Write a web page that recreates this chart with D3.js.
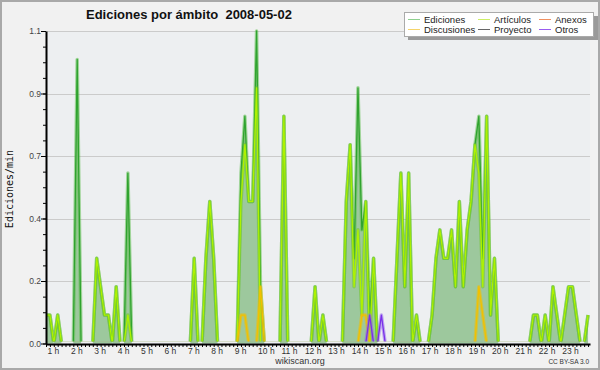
<!DOCTYPE html>
<html>
<head>
<meta charset="utf-8">
<script src="https://cdn.jsdelivr.net/npm/d3@7"></script>
<style>
body { margin: 0; background: #fff; }
text { font-family: "Liberation Sans", Arial, sans-serif; }
</style>
</head>
<body>
<svg width="600" height="370"></svg>
<script>
// edits per minute, one value per 10-minute slot, starting at 1 h
var ediciones = [
    0.1,0.1,0,0.1,0,0,0,0,1.0,0,
    0,0,0,0.3,0.2,0.1,0.1,0,0.2,0,
    0,0.6,0,0,0,0,0,0,0,0,
    0,0,0,0,0,0,0,0,0.3,0,
    0,0.3,0.5,0.3,0,0,0,0,0,0,
    0.6,0.8,0.5,0.5,1.1,0.2,0,0,0,0,
    0,0.8,0,0,0,0,0,0,0,0.2,
    0,0.1,0,0,0,0,0,0.5,0.7,0.3,
    0.9,0.4,0.5,0.1,0.3,0,0,0,0,0,
    0.3,0.6,0.2,0.6,0,0.1,0,0,0,0.1,
    0.3,0.4,0.3,0.3,0.4,0.2,0.5,0.2,0.4,0.5,
    0.7,0.8,0.3,0.8,0.1,0.3,0,0,0,0,
    0,0,0,0,0,0.1,0.1,0,0.1,0,
    0.2,0.1,0,0.1,0.2,0.2,0.1,0,0,0.1
];
var articulos = [
    0.1,0.1,0,0.1,0,0,0,0,0,0,
    0,0,0,0.3,0.2,0.1,0.1,0,0.2,0,
    0,0.1,0,0,0,0,0,0,0,0,
    0,0,0,0,0,0,0,0,0.3,0,
    0,0.3,0.5,0.3,0,0,0,0,0,0,
    0.5,0.7,0.5,0.5,0.9,0,0,0,0,0,
    0,0.8,0,0,0,0,0,0,0,0.2,
    0,0.1,0,0,0,0,0,0.5,0.7,0.2,
    0.4,0.1,0.5,0,0.3,0,0,0,0,0,
    0.3,0.6,0.2,0.6,0,0.1,0,0,0,0.1,
    0.3,0.4,0.3,0.3,0.4,0.2,0.5,0.2,0.4,0.5,
    0.7,0.6,0.2,0.8,0.1,0.3,0,0,0,0,
    0,0,0,0,0,0.1,0.1,0,0.1,0,
    0.2,0.1,0,0.1,0.2,0.2,0.1,0,0,0.1
];
var discusiones = [
    0,0,0,0,0,0,0,0,0,0,
    0,0,0,0,0,0,0,0,0,0,
    0,0,0,0,0,0,0,0,0,0,
    0,0,0,0,0,0,0,0,0,0,
    0,0,0,0,0,0,0,0,0,0,
    0.1,0.1,0,0,0,0.2,0,0,0,0,
    0,0,0,0,0,0,0,0,0,0,
    0,0,0,0,0,0,0,0,0,0,
    0,0.1,0.1,0,0,0,0,0,0,0,
    0,0,0,0,0,0,0,0,0,0,
    0,0,0,0,0,0,0,0,0,0,
    0,0.2,0.1,0,0,0,0,0,0,0,
    0,0,0,0,0,0,0,0,0,0,
    0,0,0,0,0,0,0,0,0,0
];
var otros = [
    0,0,0,0,0,0,0,0,0,0,
    0,0,0,0,0,0,0,0,0,0,
    0,0,0,0,0,0,0,0,0,0,
    0,0,0,0,0,0,0,0,0,0,
    0,0,0,0,0,0,0,0,0,0,
    0,0,0,0,0,0,0,0,0,0,
    0,0,0,0,0,0,0,0,0,0,
    0,0,0,0,0,0,0,0,0,0,
    0,0,0,0.1,0,0,0.1,0,0,0,
    0,0,0,0,0,0,0,0,0,0,
    0,0,0,0,0,0,0,0,0,0,
    0,0,0,0,0,0,0,0,0,0,
    0,0,0,0,0,0,0,0,0,0,
    0,0,0,0,0,0,0,0,0,0
];

var hourLabels = ["1 h","2 h","3 h","4 h","5 h","6 h","7 h","8 h","9 h","10 h","11 h","12 h",
    "13 h","14 h","15 h","16 h","17 h","18 h","19 h","20 h","21 h","22 h","23 h"];
var yTickValues = [0, 0.22, 0.44, 0.66, 0.88, 1.1];
var yTickLabels = ["0.0", "0.2", "0.4", "0.7", "0.9", "1.1"];

var legendNames = ["Ediciones", "Discusiones", "Artículos", "Proyecto", "Anexos", "Otros"];
var legendColors = ["#8fd08f", "#f5d46a", "#cdee66", "#666666", "#f09060", "#9a5cf0"];

var svg = d3.select("svg");

var x = d3.scaleLinear().domain([0, 139.5]).range([46, 590]);
var y = d3.scaleLinear().domain([0, 1.1]).range([343.5, 31]);

// lines are cut just above the x axis so the zero runs do not show
svg.append("defs").append("clipPath")
        .attr("id", "plotclip")
        .append("rect")
        .attr("x", 46).attr("y", 0).attr("width", 546).attr("height", 341.6);

// background + border
svg.append("rect")
        .attr("x", 1).attr("y", 1).attr("width", 598).attr("height", 368)
        .style("fill", "#f1f1f1").style("stroke", "#a9a9a9").style("stroke-width", "2px");

svg.append("rect")
        .attr("x", 46).attr("y", 31).attr("width", 544).attr("height", 313)
        .style("fill", "#edeff1");

// gridlines
svg.selectAll(".grid")
        .data(yTickValues.slice(1))
        .enter()
        .append("line")
        .attr("x1", 46).attr("x2", 590)
        .attr("y1", function(d){return Math.round(y(d)) + 0.5;})
        .attr("y2", function(d){return Math.round(y(d)) + 0.5;})
        .style("stroke", "#cbcbcb").style("stroke-width", "1px");

// area under Ediciones
var area = d3.area()
        .x(function(d, i){return x(i);})
        .y0(y(0))
        .y1(function(d){return y(d);});

svg.append("path")
        .datum(ediciones)
        .attr("d", area)
        .style("fill", "#9dc89d");

var plot = svg.append("g").attr("clip-path", "url(#plotclip)");

var line = d3.line()
        .x(function(d, i){return x(i);})
        .y(function(d){return y(d);});

var drawSeries = function(data, color, glow) {
    plot.append("path")
            .datum(data)
            .attr("d", line)
            .style("fill", "none")
            .style("stroke", glow)
            .style("stroke-opacity", 0.5)
            .style("stroke-width", "3.5px")
            .style("stroke-linejoin", "round");
    plot.append("path")
            .datum(data)
            .attr("d", line)
            .style("fill", "none")
            .style("stroke", color)
            .style("stroke-width", "1.3px")
            .style("stroke-linejoin", "round");
};

drawSeries(ediciones, "#2fa32f", "#55bb44");
drawSeries(articulos, "#aef200", "#6cc81e");
drawSeries(discusiones, "#f2c000", "#f2c000");
drawSeries(otros, "#7a30e8", "#9060f0");

// y axis
var yMinor = d3.range(0, 21).map(function(i){return i * 0.055;});
svg.append("g")
        .attr("transform", "translate(46,0)")
        .call(d3.axisLeft(y).tickValues(yMinor).tickSize(3).tickSizeOuter(0).tickFormat(""))
        .call(function(g){
            g.select(".domain").remove();
            g.selectAll("line").style("stroke", "#000");
        });

svg.append("g")
        .attr("transform", "translate(46,0)")
        .call(d3.axisLeft(y).tickValues(yTickValues).tickSize(5).tickSizeOuter(0)
                .tickFormat(function(d, i){return yTickLabels[i];}))
        .call(function(g){
            g.select(".domain").style("stroke", "#000").style("stroke-width", "2px");
            g.selectAll("line").style("stroke", "#000");
            g.selectAll("text").attr("x", -5).style("font-size", "8.5px")
                    .style("fill", "#444").style("font-family", "Liberation Sans, Arial, sans-serif");
        });

// x axis
svg.append("g")
        .attr("transform", "translate(0,344)")
        .call(d3.axisBottom(x).tickValues(d3.range(0, 140)).tickSize(3).tickSizeOuter(0).tickFormat(""))
        .call(function(g){
            g.select(".domain").style("stroke", "#000").style("stroke-width", "2px");
            g.selectAll("line").style("stroke", "#000");
        });

svg.selectAll(".hlabel")
        .data(hourLabels)
        .enter()
        .append("text")
        .attr("x", function(d, i){return x(i * 6) + 1.5;})
        .attr("y", 354)
        .style("font-size", "8.5px")
        .style("fill", "#333")
        .text(function(d){return d;});

// texts
svg.append("text")
        .attr("x", 86).attr("y", 19)
        .style("white-space", "pre")
        .style("font-size", "13px").style("font-weight", "bold").style("fill", "#111")
        .text("Ediciones por ámbito  2008-05-02");

svg.append("text")
        .attr("transform", "translate(13,189) rotate(-90)")
        .attr("text-anchor", "middle")
        .style("font-family", "DejaVu Sans Mono, monospace")
        .style("font-size", "10px").style("fill", "#111")
        .text("Ediciones/min");

svg.append("text")
        .attr("x", 300).attr("y", 364)
        .attr("text-anchor", "middle")
        .style("font-size", "9px").style("fill", "#333")
        .text("wikiscan.org");

svg.append("text")
        .attr("x", 589).attr("y", 364)
        .attr("text-anchor", "end")
        .style("font-size", "6.5px").style("fill", "#333")
        .text("CC BY-SA 3.0");

// legend
svg.append("rect")
        .attr("x", 408).attr("y", 16).attr("width", 190).attr("height", 24)
        .style("fill", "#9a9a9a");
svg.append("rect")
        .attr("x", 404.5).attr("y", 12.5).attr("width", 189).attr("height", 24)
        .style("fill", "#fff").style("stroke", "#aaa").style("stroke-width", "1px");

var legendCols = [408, 478, 539];
var lg = svg.selectAll(".leg")
        .data(legendNames)
        .enter()
        .append("g")
        .attr("transform", function(d, i){
            return "translate(" + legendCols[Math.floor(i / 2)] + "," + (19.5 + (i % 2) * 10) + ")";
        });

lg.append("line")
        .attr("x1", 0).attr("x2", 12)
        .style("stroke", function(d, i){return legendColors[i];})
        .style("stroke-width", "1px");

lg.append("text")
        .attr("x", 16).attr("y", 3.5)
        .style("font-size", "9.5px").style("fill", "#222")
        .text(function(d){return d;});
</script>
</body>
</html>
